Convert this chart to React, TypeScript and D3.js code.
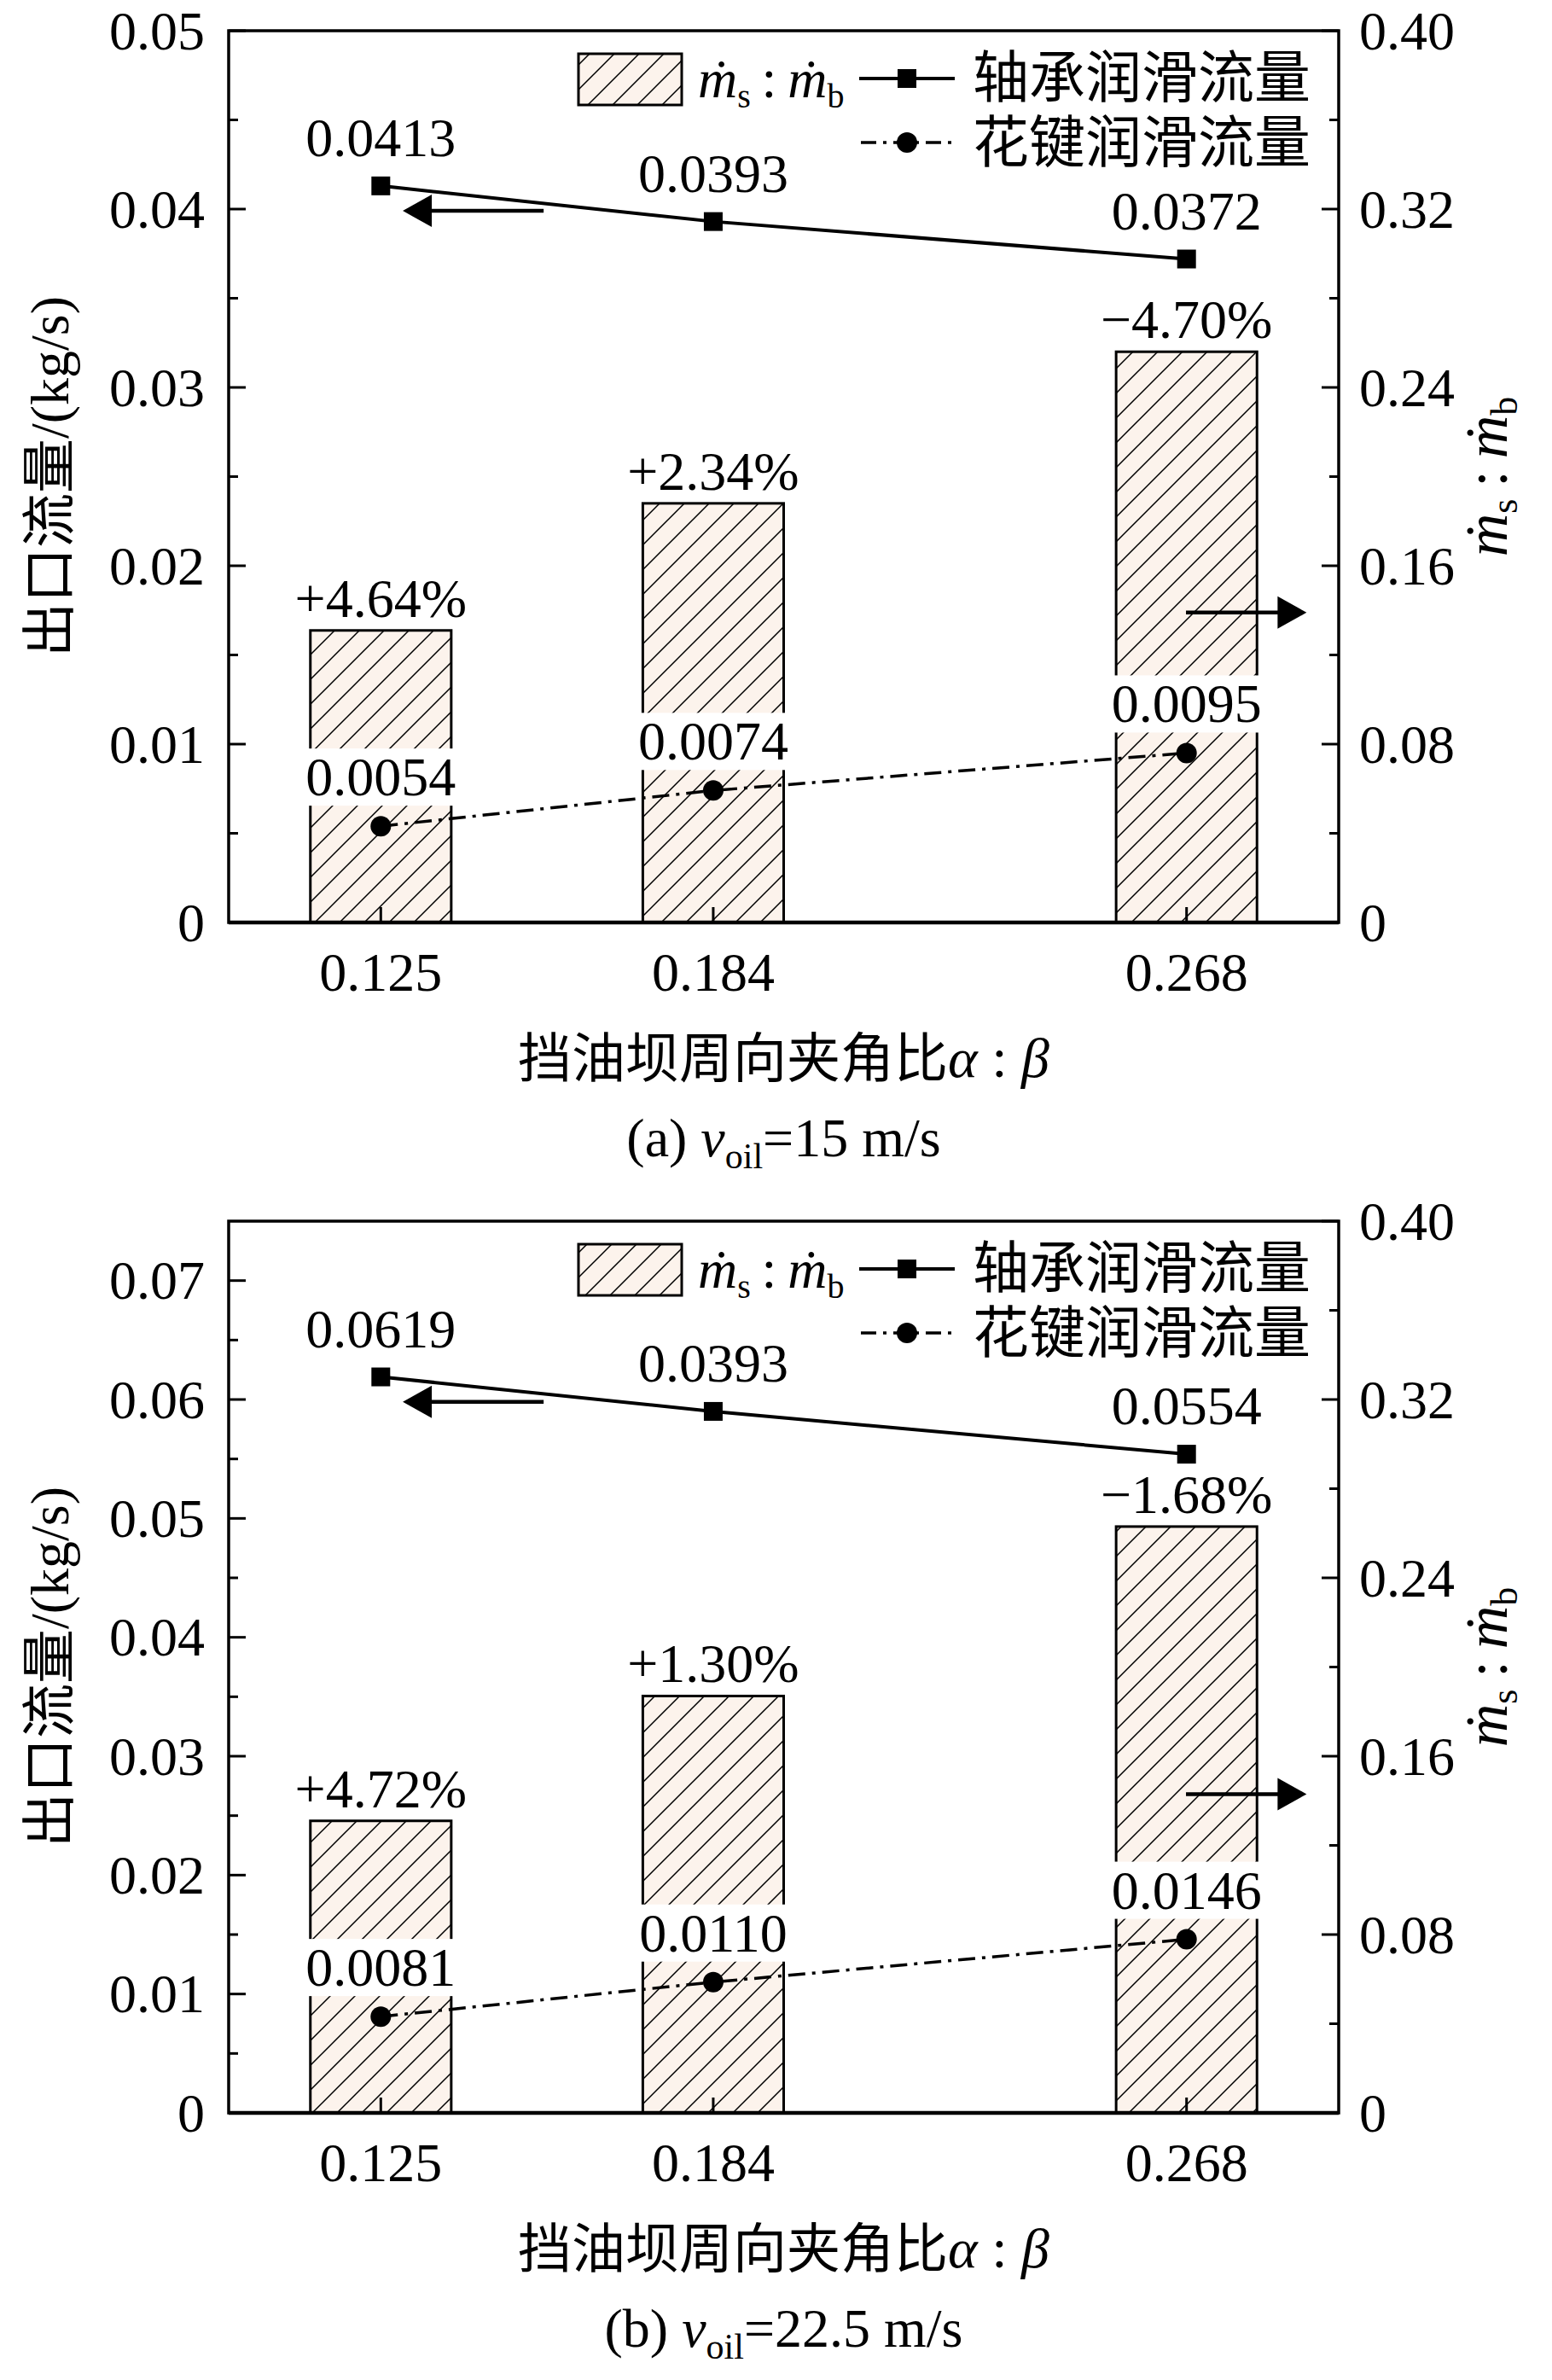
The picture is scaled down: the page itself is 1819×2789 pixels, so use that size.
import React from "react";
import * as d3 from "d3";

// ---- data ----
const ratioCategories = [0.125, 0.184, 0.268];
const xTickLabels = ["0.125", "0.184", "0.268"];

const bearingFlowA = [0.0413, 0.0393, 0.0372];
const splineFlowA = [0.0054, 0.0074, 0.0095];
const ratioA = [0.131, 0.188, 0.256];
const bearingLabelsA = ["0.0413", "0.0393", "0.0372"];
const splineLabelsA = ["0.0054", "0.0074", "0.0095"];
const changeLabelsA = ["+4.64%", "+2.34%", "\u22124.70%"];

const bearingFlowB = [0.0619, 0.059, 0.0554];
const splineFlowB = [0.0081, 0.011, 0.0146];
const ratioB = [0.131, 0.187, 0.263];
const bearingLabelsB = ["0.0619", "0.0393", "0.0554"];
const splineLabelsB = ["0.0081", "0.0110", "0.0146"];
const changeLabelsB = ["+4.72%", "+1.30%", "\u22121.68%"];

const leftTicksA = [0, 0.01, 0.02, 0.03, 0.04, 0.05];
const leftTicksB = [0, 0.01, 0.02, 0.03, 0.04, 0.05, 0.06, 0.07];
const rightTicks = [0, 0.08, 0.16, 0.24, 0.32, 0.4];

const legendLabels = ["轴承润滑流量", "花键润滑流量"];
const xTitle = "挡油坝周向夹角比";

const FONT = "'Liberation Serif', 'Times New Roman', 'Noto Sans CJK SC', serif";
const W = 1819;
const H = 2789;
const PL = 268;
const PR = 1569;
const PH = 1045;

type PanelProps = {
  top: number;
  leftMax: number;
  leftTicks: number[];
  bearing: number[];
  spline: number[];
  ratio: number[];
  bearingLabels: string[];
  splineLabels: string[];
  changeLabels: string[];
  leftArrow: number; // left-axis value
  rightArrow: number; // right-axis value
  tag: string;
  speed: string;
};

function Panel(p: PanelProps) {
  const bottom = p.top + PH;
  const x = d3.scaleLinear().domain([0.098, 0.295]).range([PL, PR]);
  const yL = d3.scaleLinear().domain([0, p.leftMax]).range([bottom, p.top]);
  const yR = d3.scaleLinear().domain([0, 0.4]).range([bottom, p.top]);
  const barW = x(0.125) - x(0.1);
  const fmt = (v: number) => (v === 0 ? "0" : d3.format(".2f")(v));
  const leftMinor = d3.range(0.005, p.leftMax, 0.01);
  const rightMinor = d3.range(0.04, 0.4, 0.08);

  const lineGen = d3
    .line<number>()
    .x((_, i) => x(ratioCategories[i]))
    .y((d) => yL(d));

  const fs = 64;
  const legendTop = p.top + 27;
  const lx = 1007;

  // arrows
  const la = { y: yL(p.leftArrow), tail: x(0.1539), tip: x(0.1289) };
  const ra = { y: yR(p.rightArrow), tail: x(0.2679), tip: x(0.2893) };
  const headL = 34;
  const headH = 19;

  const cx = (PL + PR) / 2;

  return (
    <g>
      {/* bars */}
      {p.ratio.map((r, i) => (
        <rect
          key={"bar" + i}
          x={x(ratioCategories[i]) - barW / 2}
          y={yR(r)}
          width={barW}
          height={bottom - yR(r)}
          fill="url(#hatch)"
          stroke="#000"
          strokeWidth={3}
        />
      ))}
      {p.ratio.map((r, i) => (
        <text
          key={"pct" + i}
          x={x(ratioCategories[i])}
          y={yR(r) - 16}
          textAnchor="middle"
          fontSize={fs}
          fontFamily={FONT}
        >
          {p.changeLabels[i]}
        </text>
      ))}

      {/* x ticks (inward) */}
      {ratioCategories.map((c, i) => (
        <line key={"xt" + i} x1={x(c)} x2={x(c)} y1={bottom} y2={bottom - 18} stroke="#000" strokeWidth={3} />
      ))}

      {/* lines */}
      <path d={lineGen(p.bearing) || ""} fill="none" stroke="#000" strokeWidth={4} />
      <path
        d={lineGen(p.spline) || ""}
        fill="none"
        stroke="#000"
        strokeWidth={3.5}
        strokeDasharray="20,8,4,8"
      />
      {p.bearing.map((v, i) => (
        <rect key={"sq" + i} x={x(ratioCategories[i]) - 11} y={yL(v) - 11} width={22} height={22} fill="#000" />
      ))}
      {p.spline.map((v, i) => (
        <circle key={"ci" + i} cx={x(ratioCategories[i])} cy={yL(v)} r={12} fill="#000" />
      ))}

      {/* point labels */}
      {p.bearing.map((v, i) => (
        <text
          key={"bl" + i}
          x={x(ratioCategories[i])}
          y={yL(v) - 35}
          textAnchor="middle"
          fontSize={fs}
          fontFamily={FONT}
        >
          {p.bearingLabels[i]}
        </text>
      ))}
      {p.spline.map((v, i) => (
        <g key={"sl" + i}>
          <rect x={x(ratioCategories[i]) - 96} y={yL(v) - 36 - 55} width={192} height={67} fill="#fff" />
          <text x={x(ratioCategories[i])} y={yL(v) - 36} textAnchor="middle" fontSize={fs} fontFamily={FONT}>
            {p.splineLabels[i]}
          </text>
        </g>
      ))}

      {/* arrows */}
      <line x1={la.tail} x2={la.tip + headL - 2} y1={la.y} y2={la.y} stroke="#000" strokeWidth={4.5} />
      <path d={`M${la.tip},${la.y} L${la.tip + headL},${la.y - headH} L${la.tip + headL},${la.y + headH} Z`} fill="#000" />
      <line x1={ra.tail} x2={ra.tip - headL + 2} y1={ra.y} y2={ra.y} stroke="#000" strokeWidth={4.5} />
      <path d={`M${ra.tip},${ra.y} L${ra.tip - headL},${ra.y - headH} L${ra.tip - headL},${ra.y + headH} Z`} fill="#000" />

      {/* legend */}
      <rect x={678} y={legendTop} width={121} height={60} fill="url(#hatch)" stroke="#000" strokeWidth={3} />
      <text x={818} y={legendTop + 51} fontSize={fs} fontFamily={FONT}>
        <tspan fontStyle="italic">ṁ</tspan>
        <tspan fontSize={40} dy={12}>s</tspan>
        <tspan dy={-12}>{"\u2009:\u2009"}</tspan>
        <tspan fontStyle="italic">ṁ</tspan>
        <tspan fontSize={40} dy={12}>b</tspan>
      </text>
      <line x1={lx} x2={lx + 112} y1={legendTop + 29} y2={legendTop + 29} stroke="#000" strokeWidth={4} />
      <rect x={lx + 56 - 11} y={legendTop + 29 - 11} width={22} height={22} fill="#000" />
      <text x={1140} y={legendTop + 51} fontSize={66} fontFamily={FONT}>
        {legendLabels[0]}
      </text>
      <line
        x1={lx}
        x2={lx + 112}
        y1={legendTop + 104}
        y2={legendTop + 104}
        stroke="#000"
        strokeWidth={3.5}
        strokeDasharray="18,8,4,8"
        strokeDashoffset={-2}
      />
      <circle cx={lx + 56} cy={legendTop + 104} r={12} fill="#000" />
      <text x={1140} y={legendTop + 127} fontSize={66} fontFamily={FONT}>
        {legendLabels[1]}
      </text>

      {/* frame */}
      <rect x={PL} y={p.top} width={PR - PL} height={PH} fill="none" stroke="#000" strokeWidth={3.5} />
      <line x1={PL} x2={PR} y1={bottom} y2={bottom} stroke="#000" strokeWidth={4.5} />

      {/* left axis ticks */}
      {p.leftTicks.map((t) => (
        <g key={"lt" + t}>
          <line x1={PL} x2={PL + 20} y1={yL(t)} y2={yL(t)} stroke="#000" strokeWidth={3} />
          <text
            x={PL - 28}
            y={yL(t)}
            dy="0.34em"
            textAnchor="end"
            fontSize={fs}
            fontFamily={FONT}
          >
            {fmt(t)}
          </text>
        </g>
      ))}
      {leftMinor.map((t, i) => (
        <line key={"lm" + i} x1={PL} x2={PL + 11} y1={yL(t)} y2={yL(t)} stroke="#000" strokeWidth={3} />
      ))}

      {/* right axis ticks */}
      {rightTicks.map((t) => (
        <g key={"rt" + t}>
          <line x1={PR} x2={PR - 20} y1={yR(t)} y2={yR(t)} stroke="#000" strokeWidth={3} />
          <text x={PR + 24} y={yR(t)} dy="0.34em" textAnchor="start" fontSize={fs} fontFamily={FONT}>
            {fmt(t)}
          </text>
        </g>
      ))}
      {rightMinor.map((t, i) => (
        <line key={"rm" + i} x1={PR} x2={PR - 11} y1={yR(t)} y2={yR(t)} stroke="#000" strokeWidth={3} />
      ))}

      {/* x tick labels */}
      {ratioCategories.map((c, i) => (
        <text key={"xl" + i} x={x(c)} y={bottom + 80} textAnchor="middle" fontSize={fs} fontFamily={FONT}>
          {xTickLabels[i]}
        </text>
      ))}

      {/* axis titles */}
      <text
        transform={`translate(80,${p.top + PH / 2}) rotate(-90)`}
        textAnchor="middle"
        fontSize={64}
        fontFamily={FONT}
      >
        出口流量/(kg/s)
      </text>
      <text
        transform={`translate(1766,${p.top + PH / 2}) rotate(-90)`}
        textAnchor="middle"
        fontSize={70}
        fontFamily={FONT}
      >
        <tspan fontStyle="italic">ṁ</tspan>
        <tspan fontSize={44} dy={12}>s</tspan>
        <tspan dy={-12}>{"\u2009:\u2009"}</tspan>
        <tspan fontStyle="italic">ṁ</tspan>
        <tspan fontSize={44} dy={12}>b</tspan>
      </text>

      <text x={cx} y={bottom + 181} textAnchor="middle" fontSize={63} fontFamily={FONT}>
        {xTitle}
        <tspan fontStyle="italic" fontSize={66}>α</tspan>
        <tspan fontSize={66}>{" : "}</tspan>
        <tspan fontStyle="italic" fontSize={66}>β</tspan>
      </text>

      <text x={cx} y={bottom + 274} textAnchor="middle" fontSize={64} fontFamily={FONT}>
        {`(${p.tag}) `}
        <tspan fontStyle="italic">v</tspan>
        <tspan fontSize={42} dy={14}>oil</tspan>
        <tspan dy={-14}>{`=${p.speed} m/s`}</tspan>
      </text>
    </g>
  );
}

export default function App() {
  return (
    <svg
      width={W}
      height={H}
      viewBox={`0 0 ${W} ${H}`}
      style={{ position: "absolute", left: 0, top: 0, background: "#fff" }}
    >
      <defs>
        <pattern id="hatch" patternUnits="userSpaceOnUse" width={29} height={29}>
          <rect width={29} height={29} fill="#fcf3ec" />
          <path d="M-2,2 L2,-2 M0,29 L29,0 M27,31 L31,27" stroke="#000" strokeWidth={1.5} />
        </pattern>
      </defs>
      <rect width={W} height={H} fill="#fff" />
      <Panel
        top={36}
        leftMax={0.05}
        leftTicks={leftTicksA}
        bearing={bearingFlowA}
        spline={splineFlowA}
        ratio={ratioA}
        bearingLabels={bearingLabelsA}
        splineLabels={splineLabelsA}
        changeLabels={changeLabelsA}
        leftArrow={0.0399}
        rightArrow={0.139}
        tag="a"
        speed="15"
      />
      <Panel
        top={1431}
        leftMax={0.075}
        leftTicks={leftTicksB}
        bearing={bearingFlowB}
        spline={splineFlowB}
        ratio={ratioB}
        bearingLabels={bearingLabelsB}
        splineLabels={splineLabelsB}
        changeLabels={changeLabelsB}
        leftArrow={0.0598}
        rightArrow={0.143}
        tag="b"
        speed="22.5"
      />
    </svg>
  );
}
